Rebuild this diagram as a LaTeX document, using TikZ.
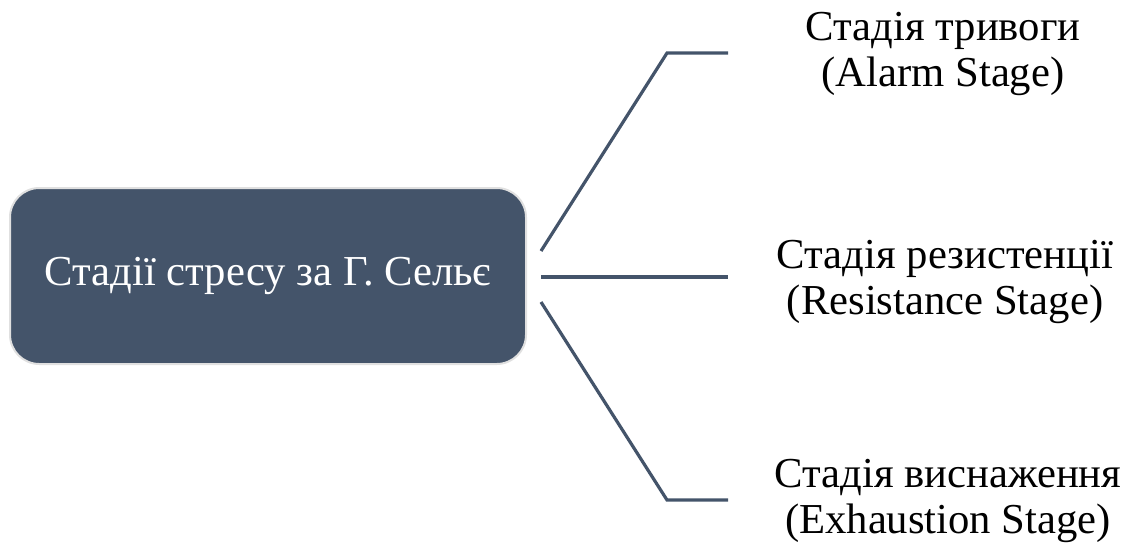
\documentclass[tikz,border=0pt]{standalone}
\usepackage{fontspec}
\setmainfont{Liberation Serif}
\definecolor{slate}{HTML}{44546A}
\definecolor{rim}{HTML}{E0E0E0}
\begin{document}
\begin{tikzpicture}[x=0.75pt,y=-0.75pt,
  mainbox/.style={fill=slate,draw=rim,line width=1.5pt,rounded corners=22pt},
  stagetxt/.style={align=center,font=\fontsize{32}{34}\selectfont,inner sep=0pt},
  link/.style={draw=slate,line width=2.4pt}]
\useasboundingbox (0,0) rectangle (1130,543);
\path[mainbox] (10,188) rectangle (526,364);
\node[text=white,font=\fontsize{32}{34}\selectfont] (main) at (268,276) {Стадії стресу за Г. Сельє};
\node[stagetxt] (s1) at (943,54) {Стадія тривоги\\(Alarm Stage)};
\node[stagetxt] (s2) at (945,282) {Стадія резистенції\\(Resistance Stage)};
\node[stagetxt] (s3) at (948,501) {Стадія виснаження\\(Exhaustion Stage)};
\coordinate (a1) at (541,251);
\coordinate (a2) at (541,277);
\coordinate (a3) at (541,302);
\coordinate (k1) at (667,53);
\coordinate (k3) at (667,500);
\coordinate (e1) at (728,53);
\coordinate (e2) at (728,277);
\coordinate (e3) at (728,500);
\draw[link] (a1) -- (k1) -- (e1);
\draw[link] (a2) -- (e2);
\draw[link] (a3) -- (k3) -- (e3);
\end{tikzpicture}
\end{document}
